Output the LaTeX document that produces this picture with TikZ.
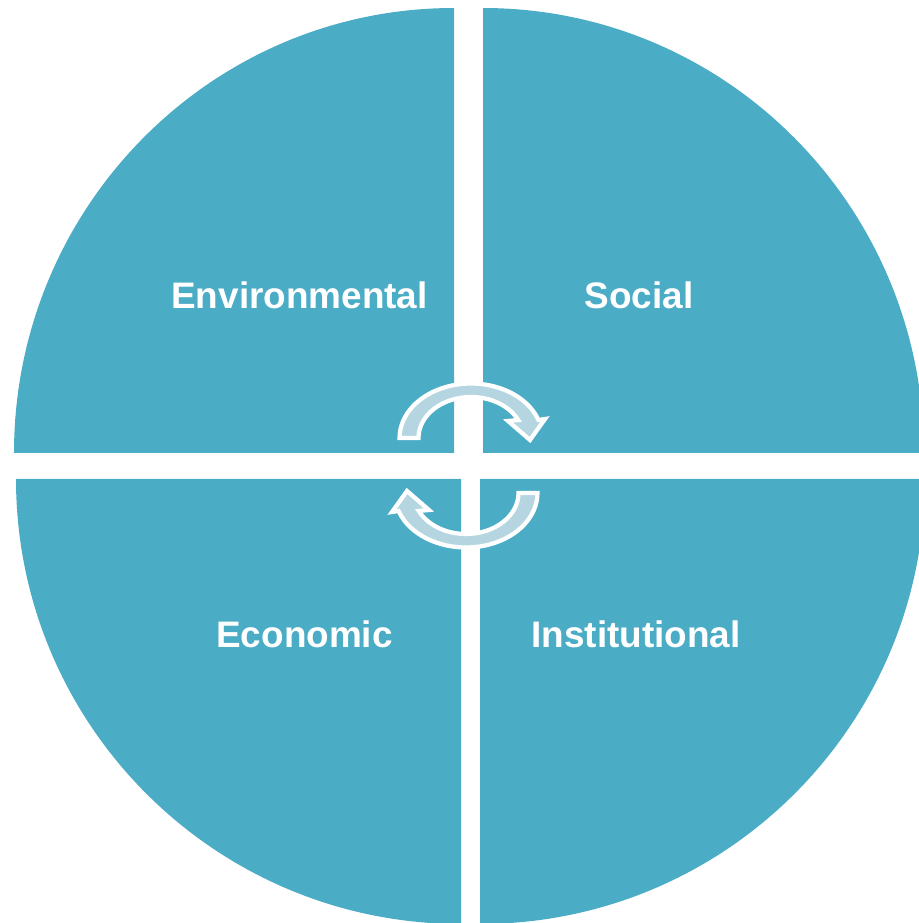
\documentclass[tikz,border=0pt]{standalone}
\usepackage{fontspec}
\setmainfont{Liberation Sans}
\usepackage{xcolor}
\usepackage{tikz}
\usetikzlibrary{positioning}

\definecolor{quadteal}{HTML}{4BACC6}
\definecolor{cyclelight}{HTML}{B5D6E1}

\tikzset{
  quadrant/.style={fill=quadteal,draw=none},
  cyclearrow/.style={fill=cyclelight,draw=white,line width=1.2pt,line join=miter}
}

\begin{document}
\begin{tikzpicture}
        \useasboundingbox (0,0) rectangle (9.19,9.23);
        \clip (0,0) rectangle (9.19,9.23);
        \begin{scope}[every path/.style={quadrant}]
          % four quarters of the disc
          \fill (4.54,4.70) -- ++(-4.40,0) arc[start angle=180,end angle=90,x radius=4.40,y radius=4.45] -- cycle;
          \fill (4.83,4.70) -- ++(0,4.45) arc[start angle=90,end angle=0,x radius=4.41,y radius=4.45] -- cycle;
          \fill (4.61,4.44) -- ++(0,-4.45) arc[start angle=270,end angle=180,x radius=4.45,y radius=4.45] -- cycle;
          \fill (4.80,4.44) -- ++(4.45,0) arc[start angle=0,end angle=-90,x radius=4.45,y radius=4.45] -- cycle;
        \end{scope}
        \begin{scope}[every node/.style={text=white,font=\bfseries\fontsize{10.5}{12}\selectfont}]
          \node (env) at (2.995,6.28) {Environmental};
          \node (soc) at (6.39,6.28) {Social};
          \node (eco) at (3.045,2.89) {Economic};
          \node (inst) at (6.36,2.89) {Institutional};
        \end{scope}
        % the two turning arrows
        \foreach \cx/\cy/\rot in {4.71/4.85/0, 4.66/4.30/180} {
          \begin{scope}[shift={(\cx,\cy)},rotate=\rot]
            \draw[cyclearrow] (-0.525,0) arc[start angle=180,end angle=26,x radius=0.525,y radius=0.41]
              -- (0.37,0.17) -- (0.59,-0.02) -- (0.74,0.19) -- (0.675,0.18)
              arc[start angle=19.3,end angle=180,x radius=0.715,y radius=0.545] -- cycle;
          \end{scope}
        }
\end{tikzpicture}
\end{document}
